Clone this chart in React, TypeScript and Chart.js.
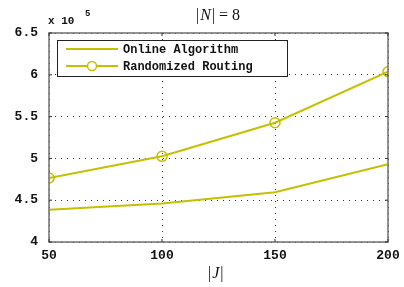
import React, { useEffect, useRef } from "react";
import { Chart, registerables } from "chart.js";
Chart.register(...registerables);

const xValues = [50, 100, 150, 200];
const onlineAlgorithm = [4.386, 4.46, 4.594, 4.93];
const randomizedRouting = [4.765, 5.025, 5.427, 6.037];
const seriesNames = ["Online Algorithm", "Randomized Routing"];
const xTicks = [50, 100, 150, 200];
const yTicks = [4, 4.5, 5, 5.5, 6, 6.5];

const COLOR = "#c4c000";
const MONO = "'Liberation Mono', 'DejaVu Sans Mono', monospace";
const SERIF = "'Liberation Serif', 'DejaVu Serif', serif";

const framePlugin = {
  id: "frame",
  afterDraw(chart: any) {
    const { ctx, chartArea: a } = chart;
    ctx.save();
    ctx.strokeStyle = "#6e6e6e";
    ctx.lineWidth = 1.5;
    ctx.setLineDash([]);
    ctx.strokeRect(a.left, a.top, a.right - a.left, a.bottom - a.top);
    const xs = chart.scales.x;
    const ys = chart.scales.y;
    ctx.strokeStyle = "#333";
    ctx.lineWidth = 1;
    xTicks.forEach((t) => {
      const px = xs.getPixelForValue(t);
      ctx.beginPath();
      ctx.moveTo(px, a.top);
      ctx.lineTo(px, a.top + 3);
      ctx.moveTo(px, a.bottom);
      ctx.lineTo(px, a.bottom - 3);
      ctx.stroke();
    });
    yTicks.forEach((t) => {
      const py = ys.getPixelForValue(t);
      ctx.beginPath();
      ctx.moveTo(a.left, py);
      ctx.lineTo(a.left + 3, py);
      ctx.moveTo(a.right, py);
      ctx.lineTo(a.right - 3, py);
      ctx.stroke();
    });

    // legend box
    const lx = 57, ly = 40, lw = 230, lh = 36;
    ctx.fillStyle = "#fff";
    ctx.fillRect(lx, ly, lw, lh);
    ctx.strokeStyle = "#222";
    ctx.lineWidth = 1;
    ctx.strokeRect(lx + 0.5, ly + 0.5, lw, lh);
    const rows = [49, 66];
    ctx.font = "bold 12px " + MONO;
    ctx.textBaseline = "middle";
    ctx.textAlign = "left";
    rows.forEach((ry, i) => {
      ctx.strokeStyle = COLOR;
      ctx.lineWidth = 2;
      ctx.beginPath();
      ctx.moveTo(66, ry);
      ctx.lineTo(118, ry);
      ctx.stroke();
      if (i === 1) {
        ctx.fillStyle = "#fff";
        ctx.beginPath();
        ctx.arc(92, ry, 4.5, 0, Math.PI * 2);
        ctx.fill();
        ctx.lineWidth = 1.5;
        ctx.stroke();
      }
      ctx.fillStyle = "#111";
      ctx.fillText(seriesNames[i], 123, ry + 1);
    });

    // title |N| = 8
    ctx.fillStyle = "#111";
    ctx.textBaseline = "alphabetic";
    ctx.font = "16px " + SERIF;
    let x = 196;
    const ty = 20;
    ctx.fillText("|", x, ty);
    x += ctx.measureText("|").width + 1;
    ctx.font = "italic 16px " + SERIF;
    ctx.fillText("N", x, ty);
    x += ctx.measureText("N").width + 1;
    ctx.font = "16px " + SERIF;
    ctx.fillText("| = 8", x, ty);

    // multiplier x 10^5
    ctx.font = "bold 11px " + MONO;
    ctx.fillText("x 10", 48, 24);
    ctx.font = "bold 9px " + MONO;
    ctx.fillText("5", 85, 16);

    // x-axis label |J|
    ctx.font = "16px " + SERIF;
    let jx = 208;
    ctx.fillText("|", jx, 278);
    jx += ctx.measureText("|").width + 1;
    ctx.font = "italic 16px " + SERIF;
    ctx.fillText("J", jx, 278);
    jx += ctx.measureText("J").width + 1;
    ctx.font = "16px " + SERIF;
    ctx.fillText("|", jx, 278);
    ctx.restore();
  },
};

export default function App() {
  const ref = useRef<HTMLCanvasElement | null>(null);
  useEffect(() => {
    if (!ref.current) return;
    const chart = new Chart(ref.current, {
      type: "line",
      data: {
        datasets: [
          {
            label: seriesNames[0],
            data: xValues.map((x, i) => ({ x, y: onlineAlgorithm[i] })),
            borderColor: COLOR,
            borderWidth: 2,
            pointRadius: 0,
            fill: false,
          },
          {
            label: seriesNames[1],
            data: xValues.map((x, i) => ({ x, y: randomizedRouting[i] })),
            borderColor: COLOR,
            borderWidth: 2,
            pointRadius: 5,
            pointBorderWidth: 1.5,
            pointBackgroundColor: "rgba(0,0,0,0)",
            pointBorderColor: COLOR,
            fill: false,
          },
        ],
      },
      options: {
        animation: false,
        responsive: false,
        maintainAspectRatio: false,
        layout: { padding: { top: 33, right: 16, left: 0, bottom: 0 } },
        plugins: { legend: { display: false }, tooltip: { enabled: false }, title: { display: false } },
        scales: {
          x: {
            type: "linear",
            min: 50,
            max: 200,
            afterFit: (s: any) => { s.height = 45; s.paddingLeft = 0; s.paddingRight = 0; },
            afterBuildTicks: (s: any) => { s.ticks = xTicks.map((v) => ({ value: v })); },
            ticks: { color: "#111", font: { family: MONO, size: 13, weight: "bold" }, padding: 6 },
            grid: { color: "#333", lineWidth: 1, drawTicks: false },
            border: { display: false, dash: [1, 5] },
          },
          y: {
            type: "linear",
            min: 4,
            max: 6.5,
            afterFit: (s: any) => { s.width = 49; s.paddingTop = 0; s.paddingBottom = 0; },
            afterBuildTicks: (s: any) => { s.ticks = yTicks.map((v) => ({ value: v })); },
            ticks: { color: "#111", font: { family: MONO, size: 13, weight: "bold" }, padding: 11, callback: (v: any) => String(v) },
            grid: { color: "#333", lineWidth: 1, drawTicks: false },
            border: { display: false, dash: [1, 5] },
          },
        },
      },
      plugins: [framePlugin],
    } as any);
    return () => chart.destroy();
  }, []);
  return (
    <div style={{ position: "fixed", left: 0, top: 0, width: 404, height: 287, background: "#fff" }}>
      <canvas ref={ref} width={404} height={287} style={{ width: 404, height: 287 }} />
    </div>
  );
}
